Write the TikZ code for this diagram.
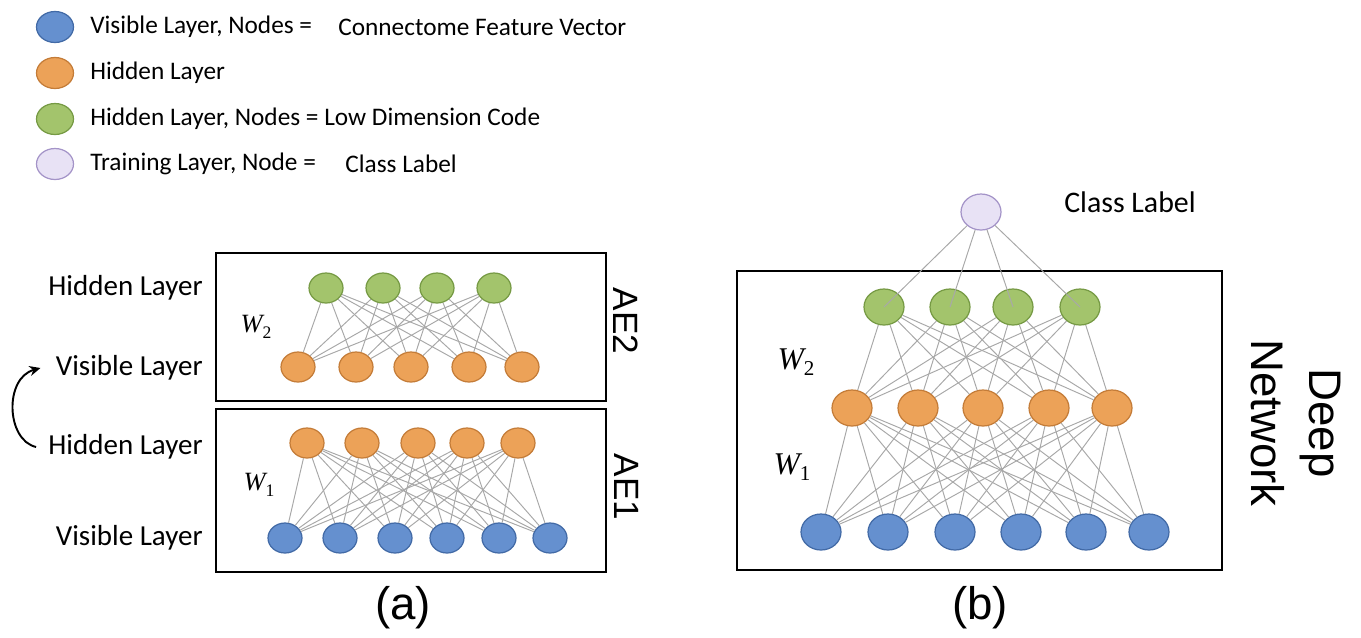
\documentclass[tikz,border=0pt]{standalone}
\usepackage{fontspec}
\setmainfont{Carlito}
\newfontfamily\arialf{Liberation Sans}
\newfontfamily\timesf{Liberation Serif}
\usetikzlibrary{shapes.geometric,arrows.meta}

\definecolor{visfill}{RGB}{101,144,207}
\definecolor{visline}{RGB}{66,106,166}
\definecolor{hidfill}{RGB}{236,162,88}
\definecolor{hidline}{RGB}{196,124,56}
\definecolor{codefill}{RGB}{163,196,108}
\definecolor{codeline}{RGB}{118,154,68}
\definecolor{clsfill}{RGB}{232,226,245}
\definecolor{clsline}{RGB}{164,148,200}
\definecolor{wiregray}{RGB}{168,168,168}

\tikzset{
	unit/.style={ellipse, draw, line width=0.7pt, inner sep=0pt, minimum width=0.68cm, minimum height=0.6cm},
	bigunit/.style={minimum width=0.8cm, minimum height=0.72cm},
	legunit/.style={minimum width=0.74cm, minimum height=0.62cm},
	vis/.style={unit, fill=visfill, draw=visline},
	hid/.style={unit, fill=hidfill, draw=hidline},
	code/.style={unit, fill=codefill, draw=codeline},
	cls/.style={unit, fill=clsfill, draw=clsline},
	wire/.style={draw=wiregray, line width=0.55pt},
	panel/.style={draw=black, line width=1.6pt},
	legtxt/.style={anchor=west, inner sep=0pt, font=\fontsize{14.4}{17}\selectfont},
	laytxt/.style={anchor=east, inner sep=0pt, font=\fontsize{16.5}{20}\selectfont},
	wtxt/.style={inner sep=0pt, font=\timesf\fontsize{15}{18}\selectfont\itshape},
	sidetxt/.style={inner sep=0pt, rotate=-90, align=center, font=\arialf\fontsize{20}{24}\selectfont},
	captxt/.style={inner sep=0pt, font=\arialf\fontsize{26}{30}\selectfont}
}

\begin{document}
\begin{tikzpicture}[x=0.02cm, y=-0.02cm]
			%%%%% START %%%%%
			\useasboundingbox (0,0) rectangle (1361,637);
			
			% legend
			\node[vis, legunit] (legvis) at (55,27) {};
			\node[hid, legunit] (leghid) at (55,73) {};
			\node[code, legunit] (legcode) at (55,119) {};
			\node[cls, legunit] (legcls) at (55,164) {};
			\node[legtxt] (legvistxt) at (90,27) {Visible Layer, Nodes =};
			\node[legtxt] (legvisval) at (338,27) {Connectome Feature Vector};
			\node[legtxt] (leghidtxt) at (90,73) {Hidden Layer};
			\node[legtxt] (legcodetxt) at (90,119) {Hidden Layer, Nodes = Low Dimension Code};
			\node[legtxt] (legclstxt) at (90,164) {Training Layer, Node =};
			\node[legtxt] (legclsval) at (345,164) {Class Label};
			
			% (a) stacked autoencoders
			\draw[panel] (216,253) rectangle (606,401);
			\draw[panel] (216,409) rectangle (606,572);
			
			\foreach \x [count=\i] in {326,383,437,494} \node[code] (ag\i) at (\x,288) {};
			\foreach \x [count=\i] in {298,356,411,469,522} \node[hid] (ah\i) at (\x,367) {};
			\foreach \x [count=\i] in {307,362,418,467,518} \node[hid] (ak\i) at (\x,443) {};
			\foreach \x [count=\i] in {285,340,395,447,499,550} \node[vis] (av\i) at (\x,538) {};
			
			\foreach \i in {1,...,4} \foreach \j in {1,...,5} \draw[wire] (ag\i) -- (ah\j);
			\foreach \i in {1,...,5} \foreach \j in {1,...,6} \draw[wire] (ak\i) -- (av\j);
			
			\node[laytxt] (ahidtop) at (203,288) {Hidden Layer};
			\node[laytxt] (avistop) at (203,368) {Visible Layer};
			\node[laytxt] (ahidlow) at (203,447) {Hidden Layer};
			\node[laytxt] (avislow) at (203,538) {Visible Layer};
			\draw[line width=1.1pt, -{Stealth[length=2.2mm, width=2mm]}] ([xshift=-0.24cm]ahidlow.west) .. controls (6,440) and (4,378) .. ([xshift=-0.3cm]avistop.west);
			
			\node[wtxt] (aw2) at (256,327) {W\raisebox{-0.45ex}{\fontsize{10}{10}\selectfont\upshape 2}};
			\node[wtxt] (aw1) at (259,485) {W\raisebox{-0.45ex}{\fontsize{10}{10}\selectfont\upshape 1}};
			\node[sidetxt] (ae2) at (626,321) {AE2};
			\node[sidetxt] (ae1) at (627,487) {AE1};
			\node[captxt] (capa) at (403,608) {(a)};
			
			% (b) deep network
			\draw[panel] (737,271) rectangle (1222,570);
			
			\node[cls, bigunit] (bc) at (981,212) {};
			\foreach \x [count=\i] in {884,950,1013,1080} \node[code, bigunit] (bg\i) at (\x,307) {};
			\foreach \x [count=\i] in {852,918,983,1049,1112} \node[hid, bigunit] (bh\i) at (\x,408) {};
			\foreach \x [count=\i] in {821,888,955,1021,1086,1149} \node[vis, bigunit] (bv\i) at (\x,532) {};
			
			\foreach \i in {1,...,4} \draw[wire] (bc) -- (bg\i.center);
			\foreach \i in {1,...,4} \foreach \j in {1,...,5} \draw[wire] (bg\i) -- (bh\j);
			\foreach \i in {1,...,5} \foreach \j in {1,...,6} \draw[wire] (bh\i) -- (bv\j);
			
			\node[inner sep=0pt, font=\fontsize{17}{20}\selectfont] (bcls) at (1130,202) {Class Label};
			\node[wtxt, font=\timesf\fontsize{18}{21}\selectfont\itshape] (bw2) at (796,362) {W\raisebox{-0.45ex}{\fontsize{12}{12}\selectfont\upshape 2}};
			\node[wtxt, font=\timesf\fontsize{18}{21}\selectfont\itshape] (bw1) at (792,467) {W\raisebox{-0.45ex}{\fontsize{12}{12}\selectfont\upshape 1}};
			\node[sidetxt, font=\arialf\fontsize{26}{33}\selectfont] (deep) at (1296,423) {Deep\\Network};
			\node[captxt] (capb) at (980,608) {(b)};
			
			%%%%% END %%%%%
		\end{tikzpicture}
\end{document}
